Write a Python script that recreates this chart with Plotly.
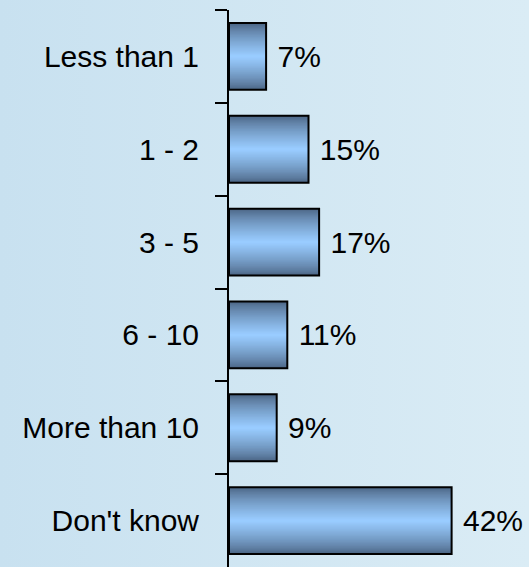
import plotly.graph_objects as go

categories = ["Less than 1", "1 - 2", "3 - 5", "6 - 10", "More than 10", "Don't know"]
values = [7, 15, 17, 11, 9, 42]
labels = ["7%", "15%", "17%", "11%", "9%", "42%"]

DARK = (74, 99, 130)
LIGHT = (153, 204, 255)
BAR_W = 0.72
N = 28
FONT = "Liberation Sans"

def mix(a, b, t):
    return "rgb(%d,%d,%d)" % tuple(round(a[k] + (b[k] - a[k]) * t) for k in range(3))

fig = go.Figure()
for i in range(N):
    t = i / (N - 1)
    fig.add_trace(go.Bar(
        x=values, y=categories, orientation="h",
        width=BAR_W * (1 - i / N),
        marker=dict(color=mix(DARK, LIGHT, t ** 0.75), line=dict(width=0)),
        hoverinfo="skip", showlegend=False,
    ))
fig.add_trace(go.Bar(
    x=values, y=categories, orientation="h", width=BAR_W,
    marker=dict(color="rgba(0,0,0,0)", line=dict(color="black", width=2)),
    text=labels, texttemplate=" %{text}", textposition="outside", cliponaxis=False,
    textfont=dict(family=FONT, size=30, color="black"),
    showlegend=False,
))

fig.update_layout(
    width=529, height=567,
    margin=dict(l=229, r=0, t=10, b=0),
    barmode="overlay",
    paper_bgcolor="rgba(0,0,0,0)", plot_bgcolor="rgba(0,0,0,0)",
    font=dict(family=FONT, size=30, color="black"),
    uniformtext=dict(mode=False),
)
fig.update_xaxes(range=[0, 56.6], visible=False, showgrid=False, zeroline=False)
fig.update_yaxes(
    autorange="reversed", showgrid=False, zeroline=False,
    showline=True, linecolor="black", linewidth=2,
    ticks="outside", tickson="boundaries", ticklen=12, tickwidth=2, tickcolor="black",
    ticklabelstandoff=22,
    tickfont=dict(family=FONT, size=30, color="black"),
)

fig.write_html("out.html", config={"displayModeBar": False})
with open("out.html") as f:
    html = f.read()
html = html.replace("<body>", '<body style="margin:0;background:linear-gradient(to right,#c8e1f0,#daecf5);">', 1)
with open("out.html", "w") as f:
    f.write(html)
